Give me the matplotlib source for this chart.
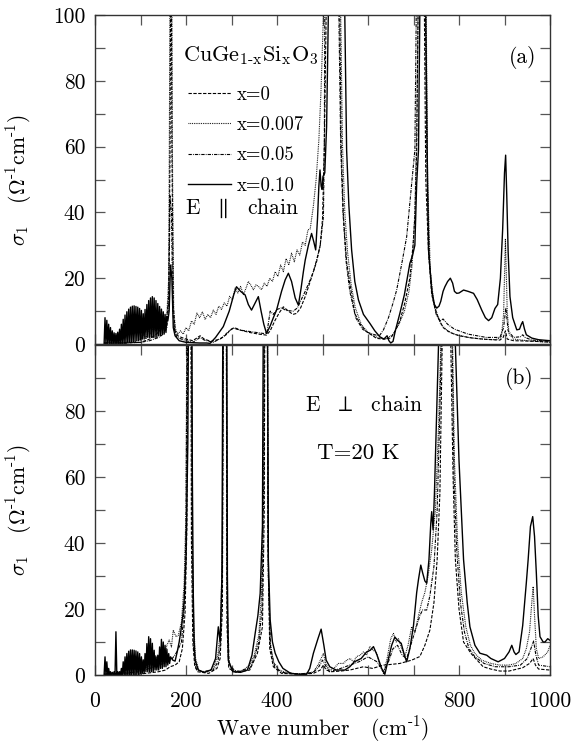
import numpy as np
import matplotlib
matplotlib.use("Agg")
import matplotlib.pyplot as plt
from matplotlib.ticker import FixedLocator, FixedFormatter, NullFormatter

plt.rcParams['font.family'] = ['cmr10', 'DejaVu Serif']
plt.rcParams['mathtext.fontset'] = 'cm'
plt.rcParams['axes.unicode_minus'] = False
plt.rcParams['axes.formatter.use_mathtext'] = True
plt.rcParams['lines.scale_dashes'] = False

# ---------------- data (wave number cm^-1, sigma_1) ----------------
series_labels = ['x=0', 'x=0.007', 'x=0.05', 'x=0.10']
legend_title = r'CuGe$_{\text{1-x}}$Si$_{\text{x}}$O$_{3}$'

# Panel (a): E || chain
a_x000 = [(20,0.3),(60,0.3),(100,0.5),(120,1.5),(135,3),(145,4.5),(152,6),(158,8),(162,15),(165,60),(167,150),(169,60),(172,12),(176,4),(182,2.5),(190,2),(200,1.5),(215,1),(231,2.5),(240,1.5),(255,0.8),(275,1.5),(290,3),(297,4.3),(306,5),(320,4.2),(340,3.5),(360,3),(377,2.7),(385,4),(395,7),(405,9.5),(414,11.3),(425,10),(435,9),(443,9.3),(452,11),(462,14.4),(473,19),(480,22),(487,25),(495,30),(500,38),(504,60),(508,100),(514,200),(534,200),(538,100),(541,60),(546,38.7),(553,25),(560,18.4),(571,9.3),(583,6),(597,3.7),(619,1.7),(635,1.5),(650,1.8),(660,4),(670,7),(680,12),(692,20),(699,30),(703,38.7),(707,59),(710,100),(714,200),(722,200),(724,100),(727,50),(733,28),(740,15),(751,9),(765,5),(780,3.5),(800,2.5),(830,1.8),(860,1.4),(890,1.2),(897,2),(902,4),(906,1.5),(920,1),(950,0.9),(1000,0.6)]

a_x007 = [(20,0.5),(60,0.5),(90,0.8),(100,1.5),(108,3),(112,1.5),(118,4.5),(123,3),(128,5.5),(133,4),(138,6.5),(143,5),(148,8),(153,6.5),(158,9),(162,20),(164,80),(166,150),(168,150),(170,60),(173,10),(177,4.5),(182,3),(188,4),(194,3),(200,5),(206,4),(212,7),(218,6),(224,9.4),(230,8),(236,9.8),(242,7.5),(248,9),(254,8),(260,10.3),(266,9),(272,11.5),(278,10.5),(284,12.5),(290,11.5),(296,14.5),(302,13.5),(308,17),(314,15.5),(320,17.5),(326,15),(332,17),(337,19),(342,18),(348,16.5),(354,18),(360,17.4),(366,16.5),(372,18.5),(378,17.5),(384,20),(390,19),(396,22),(402,20.5),(408,24),(414,22),(420,26),(426,24),(432,27.6),(438,25),(444,28.6),(450,27),(456,31),(462,30),(468,34.7),(473,35),(480,42),(486,50),(492,62),(497,78),(502,100),(508,200),(536,200),(540,100),(544,60),(549,40),(555,28),(563,18),(572,11),(585,6),(600,3.5),(620,2),(640,1.5),(655,3),(668,6),(680,10),(690,16),(697,24),(703,40),(707,65),(710,100),(714,200),(724,200),(728,100),(731,50),(737,22),(745,12),(760,6),(775,4),(790,3),(820,2),(850,1.5),(880,1.3),(893,2),(898,9),(902,32),(906,10),(910,3),(920,1.5),(950,1),(1000,0.5)]

a_x050 = [(20,0.2),(60,0.3),(100,0.5),(120,1),(140,2),(150,3),(158,5),(162,12),(165,45),(168,40),(171,10),(175,4),(180,2),(200,1),(215,0.5),(231,2),(240,1.2),(260,0.5),(280,2),(295,4),(304,4.8),(320,4.2),(340,3.8),(360,3.4),(370,3.2),(378,3.5),(385,10),(392,9),(400,10.5),(410,11),(420,10.2),(436,10),(445,11),(455,14),(462,16),(473,19.5),(480,22),(487,25.5),(495,30),(502,38.7),(504,60),(505,100),(510,200),(532,200),(536,100),(540,60),(545,40),(552,25),(560,16),(573,8),(588,4.5),(600,3.5),(615,2.8),(625,2.5),(634,4.3),(645,8),(654,12),(663,16.4),(675,25),(685,32.6),(696,48.8),(703,59),(706,100),(712,200),(722,200),(726,100),(730,50),(735,25),(742,14),(750,9),(758,7),(765,7.6),(775,6),(790,4.5),(820,3),(860,2),(890,2),(898,5),(903,11),(908,4),(920,2),(935,2.2),(940,2.8),(945,2),(960,1.2),(1000,0.8)]

a_x100 = [(20,0),(22,8.0),(24,0),(26,7.2),(28,0),(30,6.0),(32,0),(34,5.0),(36,0),(38,4.0),(40,0),(42,3.4),(44,0),(46,3.2),(48,0),(50,3.6),(52,0),(54,4.5),(56,0),(58,6.0),(60,0),(62,7.5),(64,0),(66,8.8),(68,0),(70,9.8),(72,0.3),(74,10.6),(76,0.5),(78,11.2),(80,0.5),(82,11.5),(84,0.5),(86,11.6),(88,0.8),(90,11.4),(92,1),(94,11.2),(96,1),(98,10.8),(100,1.2),(102,10.2),(104,1.5),(106,9.2),(108,1.5),(110,10.5),(112,2),(114,12.0),(116,2),(118,13.2),(120,2),(122,14.0),(124,2),(126,14.4),(128,2),(130,14.0),(132,2),(134,13.2),(136,2),(138,12.3),(140,2.5),(142,11.4),(144,2.5),(146,10.6),(148,3),(150,9.8),(152,3),(154,9.0),(156,3.5),(158,8.3),
          (160,7),(163,10),(166,24),(169,20),(172,5),(176,2.5),(185,1),(200,0.5),(230,0.3),(245,0.3),(253,0.2),(265,2),(282,5.3),(295,10),(305,15),(311,17.4),(320,16),(330,14.9),(337,12),(344,10.3),(352,12.5),(359,14.4),(365,10),(371,6),(377,3.2),(385,5.5),(392,8),(399,10.3),(410,16),(418,19.5),(425,21.5),(432,19),(440,14),(447,11.8),(453,17),(458,22),(462,25.5),(469,30),(476,33.6),(481,31),(485,28.6),(489,38),(492,48),(494.5,52.9),(497,48),(499,47),(501,50.9),(505,52),(509,66),(513,100),(520,200),(544,200),(549,100),(553,59),(558,42),(564,28.6),(571,19),(579,13.4),(590,9),(604,6.3),(615,4),(626,2.2),(635,1.5),(642,2.5),(646,1),(650,0.3),(655,0.8),(660,4),(670,9.3),(680,15),(692,24.5),(698,27),(703,30),(707,48.8),(711,59),(714,100),(718,200),(725,200),(727,100),(730,59),(733,28.6),(740,16.4),(746,12),(751,10.9),(756,11.5),(760,13),(765,16),(769,17.4),(775,19),(781,20),(786,18.5),(790,16),(795,15.4),(800,15.5),(810,16.4),(820,16),(832,15.4),(840,13.5),(850,10.3),(858,8),(865,7.1),(872,8),(879,10.8),(885,12),(891,20),(896,35),(900,52),(902.5,57.4),(905,45),(908,28),(912,14.4),(918,8),(927,4.3),(933,4.5),(937,6),(940,6.8),(944,4.5),(948,2.8),(960,1.8),(975,1.3),(1000,1)]

# Panel (b): E perp chain
b_x000 = [(20,0.2),(100,0.3),(140,1),(155,1.5),(165,2.5),(176,3),(185,4),(192,8),(198,19),(202,45),(205,150),(210,150),(212,40),(215,10),(219,3),(225,1),(250,0.5),(268,2),(275,5),(280,20),(283,150),(288,150),(290,15),(294,2),(310,0.8),(340,1.5),(357,6.6),(368,14.6),(372,50),(374,150),(378,150),(380,40),(384,8),(392,2.5),(410,0.5),(450,0.2),(480,0.5),(495,1.5),(502,3),(508,1.5),(520,1),(540,1.2),(560,1.5),(590,2.5),(610,2),(634,3),(650,3.2),(670,3.5),(696,4.5),(714,5.6),(725,9),(736,13.6),(745,22),(752,35),(758,55),(763,100),(768,200),(778,200),(782,100),(787,60),(792,35),(800,20),(810,10),(826,6.6),(853,2.5),(870,1.8),(890,1.2),(910,1.2),(940,2.2),(955,3.5),(963,5),(968,3),(975,1.8),(1000,1.5)]

b_x007 = [(20,0.5),(40,0.3),(60,0.5),(80,0.5),(90,1),(100,1.5),(110,3.5),(115,2),(120,4.5),(127,3),(133,6),(140,4),(147,6.5),(152,5),(158,9),(163,10.6),(168,8.5),(172,13.6),(178,11.6),(183,12),(190,16),(196,28),(200,50),(203,150),(211,150),(214,40),(217,15),(221,5),(228,1.5),(240,0.8),(260,2),(270,6),(276,14),(280,40),(283,150),(288,150),(290,25),(293,5),(300,1.5),(320,1),(340,3),(350,6),(360,12),(366,25),(370,60),(373,150),(378,150),(381,30),(385,10),(392,4),(405,1.5),(420,0.8),(440,0.3),(470,0.5),(480,1),(490,3),(497,5),(502,6.6),(507,3.5),(515,1.5),(525,2),(535,3.5),(546,3.5),(553,4.5),(561,5),(568,4),(575,5.6),(583,6),(590,7),(597,6),(604,8.6),(611,7.5),(618,7),(626,3),(634,0.5),(642,5),(650,11),(656,12.6),(662,10),(667,11),(674,8),(681,5.6),(688,9),(696,14.6),(703,13),(711,18),(718,22),(725,25),(732,30),(740,38),(748,50),(755,75),(760,100),(766,200),(782,200),(786,100),(790,65),(797,40),(805,25),(815,14.6),(825,9),(835,6.5),(850,4.5),(870,3.5),(890,3),(910,3),(925,3.5),(940,5),(948,8),(955,13),(960,22),(963,26.8),(966,18),(970,8),(975,5),(985,5.5),(995,7),(1000,9)]

b_x050 = [(20,0.2),(100,1),(120,2),(140,3),(160,4),(170,5),(180,7),(190,10),(196,20),(200,45),(204,150),(211,150),(214,35),(217,8),(222,2),(235,1),(260,1.5),(270,4),(276,10),(280,35),(283,150),(288,150),(291,20),(295,3),(310,1),(340,2),(350,5),(360,10),(367,20),(371,60),(373,150),(378,150),(381,30),(386,8),(395,2.5),(410,0.8),(450,0.3),(480,0.8),(492,2.5),(500,4.5),(506,3),(515,1),(540,2),(560,3),(580,4),(600,5.5),(620,4),(634,1),(645,4),(655,8),(665,9),(675,6),(685,5),(696,10),(705,14),(714,18),(720,19.7),(729,19.7),(736,24),(745,33),(752,50),(757,75),(761,100),(767,200),(780,200),(785,100),(789,60),(795,38),(803,22),(812,13),(822,8),(835,5.5),(855,3.5),(880,2.5),(910,2.5),(935,3),(950,5),(958,8),(964,10.3),(969,6),(975,3),(1000,2.5)]

b_x100 = [(20,0),(22,5.5),(24,0),(26,4.0),(28,0),(30,2.0),(32,0),(34,1.0),(36,0),(38,0.8),(40,0),(42,1.0),(44,0),(46,13.1),(48,0),(50,1.0),(52,0),(54,1.0),(56,0),(58,2.0),(60,0),(62,4.0),(64,0),(66,5.5),(68,0),(70,6.5),(72,0),(74,7.2),(76,0),(78,7.6),(80,0),(82,7.6),(84,0),(86,7.5),(88,0),(90,7.3),(92,0),(94,7.0),(96,0),(98,6.5),(100,0.5),(102,5.5),(104,0.5),(106,4.6),(108,0.5),(110,6.5),(112,1),(114,9.5),(116,1),(118,11.6),(120,1),(122,11.0),(124,1),(126,9.6),(128,1),(130,7.5),(132,1.5),(134,5.5),(136,1.5),(138,6.0),(140,1.5),(142,8.5),(144,2),(146,10.8),(148,2),(150,10.0),(152,2.5),(154,9.0),(156,2.5),(158,7.8),(160,3),(162,6.5),(164,3.5),(166,5.5),
          (171,4.5),(176,4.2),(180,6.6),(185,10),(189,13.6),(193,18),(196,22.7),(200,35),(204,70),(207,150),(212,150),(214,60),(216,24.7),(218,10),(220,4.5),(227,1.5),(240,0.8),(255,1.5),(265,5),(271,14.6),(275,10),(279,30),(282,150),(289,150),(291,30),(293,4.5),(303,1.0),(320,0.8),(335,1.5),(345,6),(352,12.6),(358,18),(363,24.7),(368,45),(371,150),(378,150),(381,35),(385,16.7),(390,10),(396,6.6),(404,4),(413,2),(430,0.5),(450,0.2),(465,0.2),(472,2),(480,6.6),(490,11),(497,13.9),(503,9),(508,4.5),(516,2.5),(530,1.5),(549,1.5),(560,2.5),(570,4),(585,5),(597,7),(605,7.5),(612,8.6),(620,6),(630,2),(637,0.2),(645,5),(652,9),(659,11.5),(665,10.5),(673,9.6),(680,6),(685,4),(692,8),(700,15),(707,25),(711,29),(716,33.3),(720,31),(725,28.5),(729,27.8),(734,35),(738,46),(740,49.5),(743,44),(746,55),(750,75),(755,100),(762,200),(788,200),(792,100),(800,65),(810,35),(818,22),(824,14.6),(835,9),(846,6.6),(861,6),(870,5),(886,4),(900,5),(910,7),(916,9),(921,7),(925,6.2),(932,7),(940,15),(948,28),(952,35),(957,45),(962,48),(966,42),(970,30.8),(974,18),(978,11.6),(985,10),(989,10),(995,11),(1000,10.5)]

x_ticks = [0, 200, 400, 600, 800, 1000]
x_tick_labels = ['0', '200', '400', '600', '800', '1000']
x_minor = [100, 300, 500, 700, 900]
a_y_ticks = [0, 20, 40, 60, 80, 100]
a_y_tick_labels = ['0', '20', '40', '60', '80', '100']
b_y_ticks = [0, 20, 40, 60, 80]
b_y_tick_labels = ['0', '20', '40', '60', '80']
y_minor = [10, 30, 50, 70, 90]

# ---------------- styles ----------------
styles = [
    dict(linestyle=(0, (2.4, 1.1)), lw=0.8),
    dict(linestyle=(0, (0.6, 0.7)), lw=0.8),
    dict(linestyle=(0, (2.4, 0.8, 0.6, 0.8)), lw=0.8),
    dict(linestyle='-', lw=1.0),
]

W, H = 576, 744
fig = plt.figure(figsize=(W / 100, H / 100), dpi=100)
L, R = 95, 550
ax_a = fig.add_axes([L / W, (H - 344) / H, (R - L) / W, 329 / H])
ax_b = fig.add_axes([L / W, (H - 675) / H, (R - L) / W, 330 / H])

tick_col = '#555555'

def style_axes(ax, yt, ytl, show_x):
    ax.set_xlim(0, 1000)
    ax.set_ylim(0, 100)
    ax.xaxis.set_major_locator(FixedLocator(x_ticks))
    ax.xaxis.set_minor_locator(FixedLocator(x_minor))
    ax.yaxis.set_major_locator(FixedLocator(yt))
    ax.yaxis.set_minor_locator(FixedLocator(y_minor))
    ax.yaxis.set_major_formatter(FixedFormatter(ytl))
    if show_x:
        ax.xaxis.set_major_formatter(FixedFormatter(x_tick_labels))
    else:
        ax.xaxis.set_major_formatter(NullFormatter())
    ax.tick_params(which='both', direction='in', top=True, right=True,
                   length=7, width=0.9, color=tick_col, labelsize=15.5)
    ax.tick_params(axis='y', which='major', pad=7)
    ax.tick_params(axis='x', which='major', pad=12)
    for s in ax.spines.values():
        s.set_color('#333333')
        s.set_linewidth(1.0)
    ax.set_ylabel(r'$\sigma_1$   ($\Omega^{\text{-1}}$cm$^{\text{-1}}$)', fontsize=15.5)
    ax.yaxis.set_label_coords(-0.135, 0.5)

for ax, sers in ((ax_a, (a_x000, a_x007, a_x050, a_x100)),
                 (ax_b, (b_x000, b_x007, b_x050, b_x100))):
    for ser, st, lab in zip(sers, styles, series_labels):
        arr = np.array(ser, dtype=float)
        ax.plot(arr[:, 0], arr[:, 1], color='black', label=lab, **st)

style_axes(ax_a, a_y_ticks, a_y_tick_labels, False)
style_axes(ax_b, b_y_ticks, b_y_tick_labels, True)

ax_a.text(0.193, 0.878, legend_title, transform=ax_a.transAxes,
          ha='left', va='center', fontsize=16)
ax_a.legend(loc='upper left', bbox_to_anchor=(0.205, 0.785),
            frameon=False, handlelength=2.3, handletextpad=0.3,
            labelspacing=0.66, fontsize=13.5, borderpad=0, borderaxespad=0)

ax_a.text(0.971, 0.872, '(a)', transform=ax_a.transAxes, ha='right', va='center', fontsize=15.5)
ax_a.text(0.198, 0.413, r'E  $\parallel$  chain', transform=ax_a.transAxes, ha='left', va='center', fontsize=15.5)
ax_b.text(0.963, 0.897, '(b)', transform=ax_b.transAxes, ha='right', va='center', fontsize=15.5)
ax_b.text(0.462, 0.818, r'E  $\perp$  chain', transform=ax_b.transAxes, ha='left', va='center', fontsize=15.5)
ax_b.text(0.488, 0.673, 'T=20 K', transform=ax_b.transAxes, ha='left', va='center', fontsize=16.5)

ax_b.set_xlabel(r'Wave number   (cm$^{\text{-1}}$)', fontsize=15.5, labelpad=2)

fig.savefig('out.png', dpi=100)
